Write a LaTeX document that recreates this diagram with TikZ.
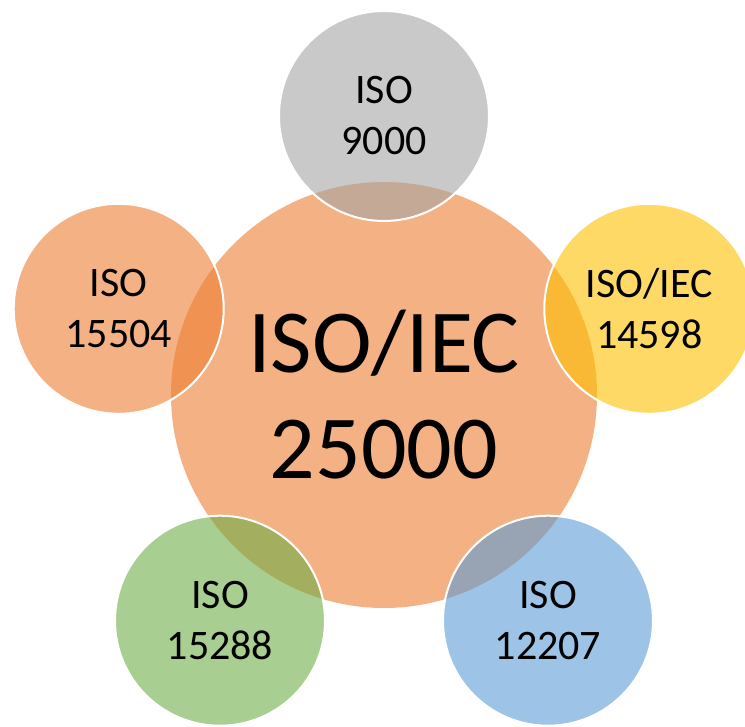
\documentclass[tikz,border=0pt]{standalone}
\usepackage{fontspec}
\setmainfont{Carlito}
\definecolor{accOrange}{HTML}{ED7D31}
\definecolor{accGray}{HTML}{A5A5A5}
\definecolor{accGold}{HTML}{FFC000}
\definecolor{accBlue}{HTML}{5B9BD5}
\definecolor{accGreen}{HTML}{70AD47}
\begin{document}
\begin{tikzpicture}[x=1pt,y=-1pt,
  hub/.style={circle, minimum size=426pt, inner sep=0pt, fill=accOrange,
    fill opacity=0.6, text opacity=1, align=center,
    font=\fontsize{90}{106}\selectfont},
  sat/.style={circle, minimum size=210pt, inner sep=0pt, fill=#1,
    fill opacity=0.6, draw=white, draw opacity=1, line width=2pt,
    text opacity=1, align=center, font=\fontsize{42}{51}\selectfont}]
  % canvas
  \useasboundingbox (0,0) rectangle (745,727);
  % central standard
  \node[hub] (core) at (384,395) {ISO/IEC\\25000};
  % related standards on a regular pentagon around the core
  \node[sat=accGray]   (s9000)  at (384,116)   {ISO\\9000};
  \node[sat=accOrange] (s15504) at (118.7,308.8) {ISO\\15504};
  \node[sat=accGold]   (s14598) at (649.3,308.8) {ISO/IEC\\14598};
  \node[sat=accGreen]  (s15288) at (220,620.7) {ISO\\15288};
  \node[sat=accBlue]   (s12207) at (548,620.7) {ISO\\12207};
\end{tikzpicture}
\end{document}
